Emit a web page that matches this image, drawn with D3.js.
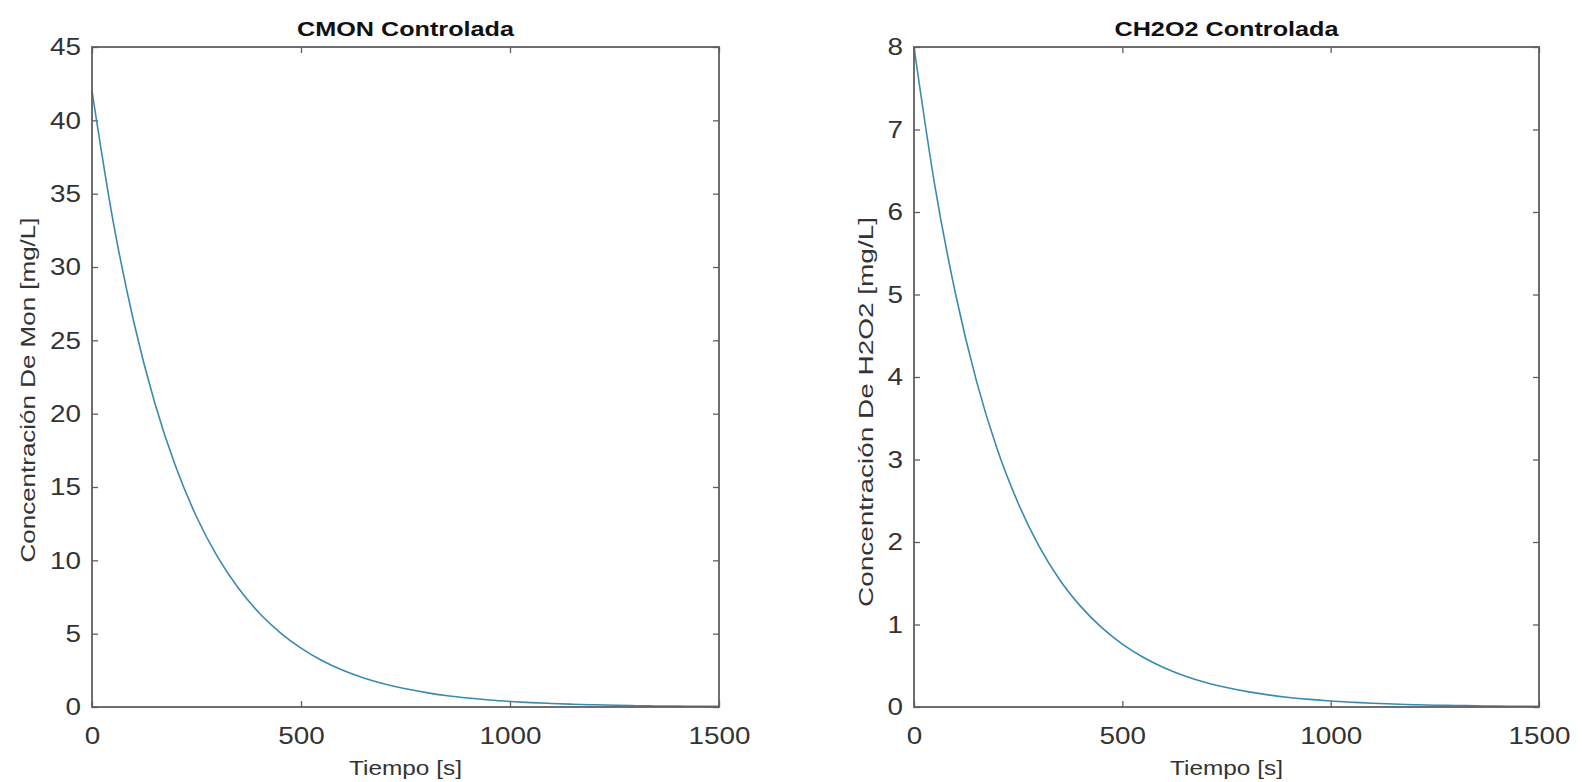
<!DOCTYPE html>
<html>
<head>
<meta charset="utf-8">
<script src="https://cdn.jsdelivr.net/npm/d3@7/dist/d3.min.js"></script>
<style>
  html, body { margin: 0; padding: 0; background: #ffffff; }
  svg { display: block; }
  text { font-family: "Liberation Sans", Arial, Helvetica, sans-serif; }
</style>
</head>
<body>
<svg id="chart" width="1582" height="782"></svg>
<script>
// Simulation time samples [s]
const times = [0, 50, 100, 150, 200, 250, 300, 350, 400, 450, 500, 550, 600, 650, 700, 750,
               800, 850, 900, 950, 1000, 1050, 1100, 1150, 1200, 1250, 1300, 1350, 1400, 1450, 1500];

// Controlled monomer concentration [mg/L]
const cmon = [42.0, 33.2, 26.25, 20.75, 16.41, 12.97, 10.25, 8.11, 6.41, 5.07, 4.01, 3.17, 2.50, 1.98,
              1.57, 1.24, 0.98, 0.77, 0.61, 0.48, 0.38, 0.30, 0.24, 0.19, 0.15, 0.12, 0.09, 0.07,
              0.06, 0.05, 0.04];

// Controlled hydrogen peroxide concentration [mg/L]
const ch2o2 = [8.00, 6.32, 5.00, 3.95, 3.12, 2.47, 1.95, 1.54, 1.22, 0.965, 0.763, 0.603, 0.477,
               0.377, 0.298, 0.236, 0.186, 0.147, 0.116, 0.092, 0.073, 0.058, 0.045, 0.036, 0.028,
               0.022, 0.018, 0.014, 0.011, 0.009, 0.007];

// Axis ticks
const xTicks = [0, 500, 1000, 1500];
const yTicksMon = [0, 5, 10, 15, 20, 25, 30, 35, 40, 45];
const yTicksH2O2 = [0, 1, 2, 3, 4, 5, 6, 7, 8];

// Titles and labels
const titles = ["CMON Controlada", "CH2O2 Controlada"];
const xLabel = "Tiempo [s]";
const yLabels = ["Concentración De Mon [mg/L]", "Concentración De H2O2 [mg/L]"];

const svg = d3.select("#chart");
const AXIS_COLOR = "#5f5f5f";
const TEXT_COLOR = "#333333";
const LINE_COLOR = "#3a8ab0";
const STRETCH = 1.16;

const panels = [
  { left: 92, right: 719, top: 47, bottom: 707, data: cmon, yMax: 45, yTicks: yTicksMon,
    title: titles[0], yLabel: yLabels[0], yLabelX: 35, yLabelY: 390, yLabelLen: 345 },
  { left: 914, right: 1539, top: 47, bottom: 707, data: ch2o2, yMax: 8, yTicks: yTicksH2O2,
    title: titles[1], yLabel: yLabels[1], yLabelX: 873, yLabelY: 412, yLabelLen: 390 }
];

// Widen a text element horizontally along its own direction
function stretch(sel, factor) {
  sel.each(function () {
    const w = this.getComputedTextLength();
    if (w > 0) {
      d3.select(this).attr("textLength", w * factor).attr("lengthAdjust", "spacingAndGlyphs");
    }
  });
}

panels.forEach(p => {
  const x = d3.scaleLinear().domain([0, 1500]).range([p.left, p.right]);
  const y = d3.scaleLinear().domain([0, p.yMax]).range([p.bottom, p.top]);
  const g = svg.append("g");

  // Inward ticks on all four sides
  const bottomAxis = g.append("g")
    .attr("transform", `translate(0,${p.bottom})`)
    .call(d3.axisBottom(x).tickValues(xTicks).tickFormat(d3.format("d"))
      .tickSizeInner(-6).tickSizeOuter(0).tickPadding(20));
  const leftAxis = g.append("g")
    .attr("transform", `translate(${p.left},0)`)
    .call(d3.axisLeft(y).tickValues(p.yTicks).tickFormat(d3.format("d"))
      .tickSizeInner(-6).tickSizeOuter(0).tickPadding(11));
  g.append("g")
    .attr("transform", `translate(0,${p.top})`)
    .call(d3.axisTop(x).tickValues(xTicks).tickFormat("").tickSizeInner(-6).tickSizeOuter(0));
  g.append("g")
    .attr("transform", `translate(${p.right},0)`)
    .call(d3.axisRight(y).tickValues(p.yTicks).tickFormat("").tickSizeInner(-6).tickSizeOuter(0));

  g.selectAll(".domain").remove();
  g.selectAll(".tick line").attr("stroke", AXIS_COLOR).attr("stroke-width", 1.3);
  g.selectAll(".tick text")
    .attr("fill", TEXT_COLOR)
    .style("font-size", "24px");
  stretch(bottomAxis.selectAll(".tick text"), STRETCH);
  stretch(leftAxis.selectAll(".tick text"), STRETCH);

  // Data curve
  const line = d3.line()
    .x((d, i) => x(times[i]))
    .y(d => y(d))
    .curve(d3.curveMonotoneX);
  g.append("path")
    .datum(p.data)
    .attr("fill", "none")
    .attr("stroke", LINE_COLOR)
    .attr("stroke-width", 1.6)
    .attr("d", line);

  // Axes box
  g.append("rect")
    .attr("x", p.left).attr("y", p.top)
    .attr("width", p.right - p.left).attr("height", p.bottom - p.top)
    .attr("fill", "none").attr("stroke", AXIS_COLOR).attr("stroke-width", 1.8);

  // Title
  const title = g.append("text")
    .attr("x", (p.left + p.right) / 2).attr("y", 36)
    .attr("text-anchor", "middle")
    .style("font-size", "21px").style("font-weight", "bold")
    .attr("fill", "#111111")
    .text(p.title);
  stretch(title, 1.2);

  // X label
  const xl = g.append("text")
    .attr("x", (p.left + p.right) / 2).attr("y", 775)
    .attr("text-anchor", "middle")
    .style("font-size", "21px")
    .attr("fill", TEXT_COLOR)
    .text(xLabel);
  stretch(xl, 1.16);

  // Y label
  g.append("text")
    .attr("transform", `translate(${p.yLabelX},${p.yLabelY}) rotate(-90)`)
    .attr("text-anchor", "middle")
    .style("font-size", "21px")
    .attr("fill", TEXT_COLOR)
    .attr("textLength", p.yLabelLen)
    .attr("lengthAdjust", "spacingAndGlyphs")
    .text(p.yLabel);
});
</script>
</body>
</html>
